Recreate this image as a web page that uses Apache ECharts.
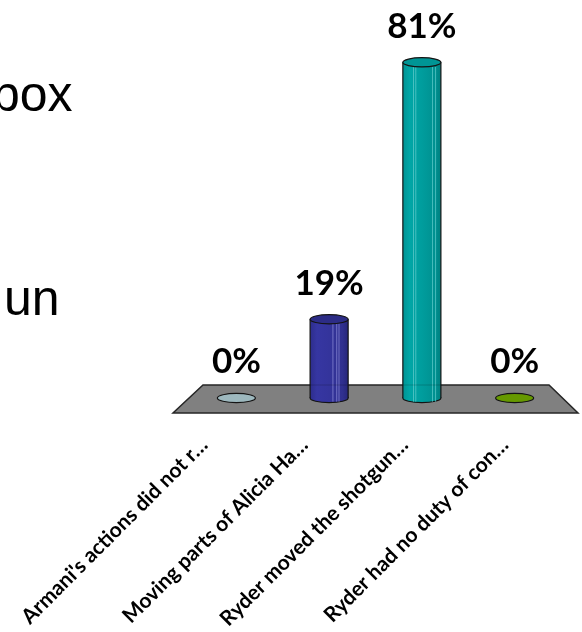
<!DOCTYPE html>
<html>
<head>
<meta charset="utf-8">
<script src="https://cdn.jsdelivr.net/npm/echarts@6/dist/echarts.min.js"></script>
<style>
  html, body { margin: 0; padding: 0; background: #ffffff; }
  #chart { width: 582px; height: 632px; }
</style>
</head>
<body>
<div id="chart"></div>
<script>
// Answer options and the share of responses for each
const categories = [
  "Armani's actions did not r\u2026",
  "Moving parts of Alicia Ha\u2026",
  "Ryder moved the shotgun\u2026",
  "Ryder had no duty of con\u2026"
];
const values = [0, 19, 81, 0];
const valueLabels = ['0%', '19%', '81%', '0%'];

// Cylinder looks, one entry per answer
const palette = [
  { flat: '#9db8be' },
  {
    stops: ['#2d2d8c', '#3636a2', '#34349c', '#30308f', '#26267a'],
    top: '#2c2c86',
    stripe: '#8a8ad6',
    stripes: [0.6, 0.7, 0.76]
  },
  {
    stops: ['#009494', '#00a6a6', '#009d9d', '#009090', '#008080'],
    top: '#009595',
    stripe: '#5fcaca',
    stripes: [0.28, 0.34, 0.78, 0.86]
  },
  { flat: '#669900' }
];

const FLOOR_BACK = 13;   // floor depth behind the bar baseline
const FLOOR_FRONT = 15;  // floor depth in front of the bar baseline
const EDGE = '#141414';

function renderFloor(params, api) {
  const cs = params.coordSys;
  const y0 = api.coord([0, 0])[1];
  const l = cs.x, r = cs.x + cs.width;
  return {
    type: 'polygon',
    shape: {
      points: [
        [l + 13, y0 - FLOOR_BACK],
        [r - 12, y0 - FLOOR_BACK],
        [r + 17, y0 + FLOOR_FRONT],
        [l - 17, y0 + FLOOR_FRONT]
      ]
    },
    style: { fill: '#808080', stroke: '#262626', lineWidth: 1.5 }
  };
}

function renderCylinder(params, api) {
  const i = api.value(0);
  const v = api.value(1);
  const base = api.coord([i, 0]);
  const top = api.coord([i, v]);
  const bandW = api.size([1, 0])[0];
  const rx = bandW * 0.205;
  const ry = 4.6;
  const cx = base[0];
  const look = palette[i];
  const label = {
    type: 'text',
    z2: 10,
    style: {
      text: valueLabels[i],
      x: cx,
      y: top[1] - 36,
      align: 'center',
      verticalAlign: 'middle',
      font: 'bold 35px Lato',
      fill: '#000000'
    }
  };
  if (v === 0) {
    return {
      type: 'group',
      children: [
        {
          type: 'ellipse',
          shape: { cx: cx, cy: base[1], rx: rx, ry: ry },
          style: { fill: look.flat, stroke: EDGE, lineWidth: 1.2 }
        },
        label
      ]
    };
  }
  const s = look.stops;
  const grad = new echarts.graphic.LinearGradient(0, 0, 1, 0, [
    { offset: 0, color: s[0] },
    { offset: 0.18, color: s[1] },
    { offset: 0.5, color: s[2] },
    { offset: 0.85, color: s[3] },
    { offset: 1, color: s[4] }
  ]);
  const children = [
    {
      type: 'ellipse',
      shape: { cx: cx, cy: base[1], rx: rx, ry: ry },
      style: { fill: grad, stroke: EDGE, lineWidth: 1.2 }
    },
    {
      type: 'rect',
      shape: { x: cx - rx, y: top[1], width: rx * 2, height: base[1] - top[1] },
      style: { fill: grad }
    }
  ];
  look.stripes.forEach(function (f) {
    const x = cx - rx + f * rx * 2;
    children.push({
      type: 'line',
      shape: { x1: x, y1: top[1] + ry, x2: x, y2: base[1] + ry * 0.8 },
      style: { stroke: look.stripe, lineWidth: 1, opacity: 0.75 }
    });
  });
  // floor edge seen faintly through the cylinder
  children.push({
    type: 'line',
    shape: { x1: cx - rx, y1: base[1] - FLOOR_BACK, x2: cx + rx, y2: base[1] - FLOOR_BACK },
    style: { stroke: 'rgba(0,0,0,0.18)', lineWidth: 1 }
  });
  children.push(
    {
      type: 'line',
      shape: { x1: cx - rx, y1: top[1], x2: cx - rx, y2: base[1] },
      style: { stroke: EDGE, lineWidth: 1.2 }
    },
    {
      type: 'line',
      shape: { x1: cx + rx, y1: top[1], x2: cx + rx, y2: base[1] },
      style: { stroke: EDGE, lineWidth: 1.2 }
    },
    {
      type: 'ellipse',
      shape: { cx: cx, cy: top[1], rx: rx, ry: ry },
      style: { fill: look.top, stroke: EDGE, lineWidth: 1.2 }
    },
    label
  );
  return { type: 'group', children: children };
}

const chart = echarts.init(document.getElementById('chart'), null, { renderer: 'canvas' });
chart.setOption({
  backgroundColor: '#ffffff',
  animation: false,
  graphic: [
    {
      type: 'text',
      left: -8,
      top: 72,
      style: { text: 'box', font: '50px "Liberation Sans"', fill: '#000000' }
    },
    {
      type: 'text',
      left: 4,
      top: 276,
      style: { text: 'un', font: '50px "Liberation Sans"', fill: '#000000' }
    }
  ],
  grid: [
    { left: 190, width: 371, top: 25, height: 373 },
    { left: 154, width: 401, top: 25, bottom: 191 }
  ],
  xAxis: [
    {
      type: 'category',
      gridIndex: 0,
      data: categories,
      show: false
    },
    {
      type: 'category',
      gridIndex: 1,
      data: categories,
      axisLine: { show: false },
      axisTick: { show: false },
      axisLabel: {
        interval: 0,
        rotate: 45,
        margin: 8,
        fontFamily: 'Lato',
        fontWeight: 'bold',
        fontSize: 21,
        color: '#000000'
      }
    }
  ],
  yAxis: [
    { type: 'value', gridIndex: 0, min: 0, max: 90, show: false },
    { type: 'value', gridIndex: 1, min: 0, max: 90, show: false }
  ],
  series: [
    {
      type: 'custom',
      xAxisIndex: 0,
      yAxisIndex: 0,
      z: 1,
      silent: true,
      renderItem: renderFloor,
      data: [[0, 0]]
    },
    {
      type: 'custom',
      xAxisIndex: 0,
      yAxisIndex: 0,
      z: 2,
      silent: true,
      renderItem: renderCylinder,
      data: values.map(function (v, i) { return [i, v]; })
    }
  ]
});
</script>
</body>
</html>
